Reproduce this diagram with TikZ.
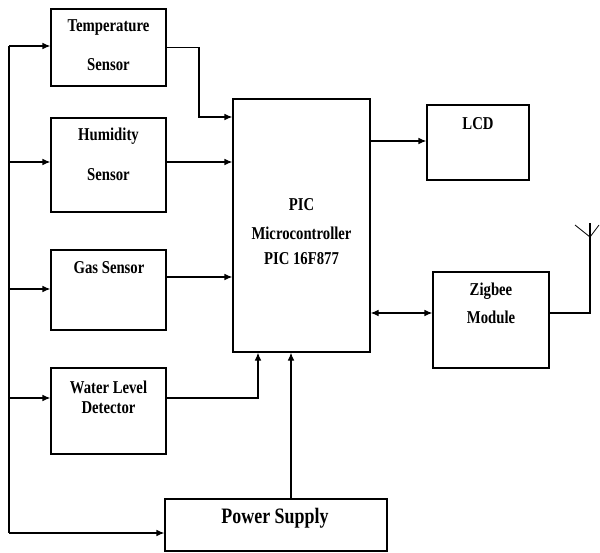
\documentclass[tikz,border=0pt]{standalone}
\usepackage{fontspec}
\setmainfont{Liberation Serif}
\usepackage{graphicx}
\usepackage{tikz}
\usetikzlibrary{positioning,calc,arrows.meta}
\newcommand{\tallt}[1]{\scalebox{0.96}[1.18]{#1}}

\begin{document}
\begin{tikzpicture}[x=0.75pt, y=-0.75pt, line width=0.9pt, >={Latex[length=6pt,width=5pt]},
    blk/.style={draw, rectangle, inner sep=0pt},
    txt/.style={font=\fontsize{11.5}{13}\selectfont\bfseries, inner sep=0pt}]
            \useasboundingbox (0,0) rectangle (600,553);

            % Sensors
            \node[blk, minimum width=0.75*115, minimum height=0.75*77] (temp) at (108.5,47.5) {};
            \node[blk, minimum width=0.75*115, minimum height=0.75*94] (hum) at (108.5,165) {};
            \node[blk, minimum width=0.75*115, minimum height=0.75*80] (gas) at (108.5,290) {};
            \node[blk, minimum width=0.75*115, minimum height=0.75*86] (water) at (108.5,411) {};
            \node[txt] (tempA) at (108.5,28) {\tallt{Temperature}};
            \node[txt] (tempB) at (108.5,65) {\tallt{Sensor}};
            \node[txt] (humA) at (108.5,136) {\tallt{Humidity}};
            \node[txt] (humB) at (108.5,175) {\tallt{Sensor}};
            \node[txt] (gasA) at (109,268) {\tallt{Gas Sensor}};
            \node[txt] (waterA) at (108.5,387) {\tallt{Water Level}};
            \node[txt] (waterB) at (108.5,408) {\tallt{Detector}};

            % Microcontroller
            \node[blk, minimum width=0.75*137, minimum height=0.75*253] (pic) at (301.5,225.5) {};
            \node[txt] (picA) at (301.5,205) {\tallt{PIC}};
            \node[txt] (picB) at (301.5,233) {\tallt{Microcontroller}};
            \node[txt] (picC) at (301.5,259) {\tallt{PIC 16F877}};

            % Outputs
            \node[blk, minimum width=0.75*102, minimum height=0.75*75] (lcd) at (478,142.5) {};
            \node[txt] (lcdA) at (478,124) {\tallt{LCD}};
            \node[blk, minimum width=0.75*116, minimum height=0.75*96] (zig) at (491,320) {};
            \node[txt] (zigA) at (491,291) {\tallt{Zigbee}};
            \node[txt] (zigB) at (491,317) {\tallt{Module}};

            % Power Supply
            \node[blk, minimum width=0.75*222, minimum height=0.75*52] (ps) at (276,525) {};
            \node[txt, font=\fontsize{14}{16}\selectfont\bfseries] (psA) at (275,518) {\tallt{Power Supply}};

            % Supply bus
            \coordinate (b1) at (9,46);
            \coordinate (b2) at (9,162);
            \coordinate (b3) at (9,289);
            \coordinate (b4) at (9,398);
            \coordinate (b5) at (9,533);
            \draw (b1) -- (b5);
            \draw[->] (b1) -- (temp.west |- b1);
            \draw[->] (b2) -- (hum.west |- b2);
            \draw[->] (b3) -- (gas.west |- b3);
            \draw[->] (b4) -- (water.west |- b4);
            \draw[->] (b5) -- (ps.west |- b5);

            % Sensor lines
            \coordinate (tb) at (199,117);
            \coordinate (hb) at (200,162);
            \coordinate (gb) at (200,277);
            \coordinate (wb) at (258,398);
            \coordinate (pw) at (291,430);
            \draw[->] (temp.east) -| (tb) -- (pic.west |- tb);
            \draw[->] (hum.east |- hb) -- (pic.west |- hb);
            \draw[->] (gas.east |- gb) -- (pic.west |- gb);
            \draw[->] (water.east |- wb) -- (wb) -- (wb |- pic.south);
            \draw[->] (ps.north -| pw) -- (pw |- pic.south);

            % LCD and Zigbee
            \coordinate (lc) at (400,141);
            \coordinate (zc) at (400,313);
            \draw[->] (pic.east |- lc) -- (lcd.west |- lc);
            \draw[<->] (pic.east |- zc) -- (zig.west |- zc);

            % Antenna
            \coordinate (ant) at (590,223);
            \coordinate (antY) at (590,237);
            \coordinate (armL) at (575,225);
            \coordinate (armR) at (599,225);
            \draw (zig.east |- zc) -| (ant);
            \draw[line width=0.6pt] (armL) -- (antY) -- (armR);
        \end{tikzpicture}
\end{document}
